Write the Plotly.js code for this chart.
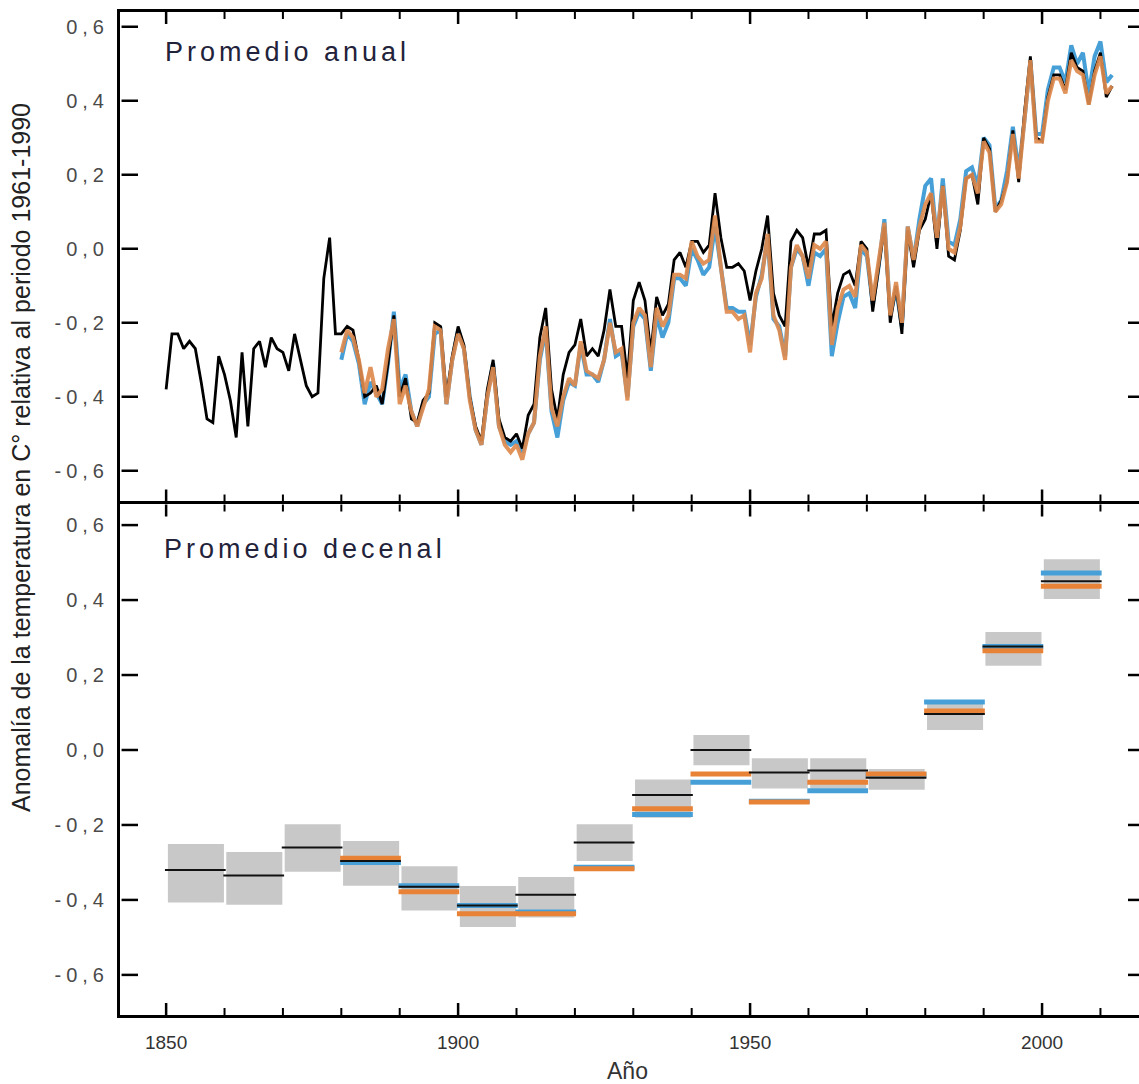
<!DOCTYPE html>
<html>
<head>
<meta charset="utf-8">
<script src="https://cdn.plot.ly/plotly-3.0.1.min.js"></script>
<style>
html,body{margin:0;padding:0;background:#fff;overflow:hidden;}
#chart{width:1146px;height:1084px;}
.ytick text,.y2tick text{letter-spacing:5px;}
</style>
</head>
<body>
<div id="chart"></div>
<script>
// ---------- DATA ----------
// Annual anomalies (°C, relative to 1961-1990)
const blackStart = 1850;
const blackAnnual = [
-0.38,-0.23,-0.23,-0.27,-0.25,-0.27,-0.36,-0.46,-0.47,-0.29,
-0.34,-0.41,-0.51,-0.28,-0.48,-0.27,-0.25,-0.32,-0.24,-0.27,
-0.28,-0.33,-0.23,-0.30,-0.37,-0.40,-0.39,-0.08,0.03,-0.23,
-0.23,-0.21,-0.22,-0.30,-0.40,-0.39,-0.37,-0.42,-0.31,-0.18,
-0.40,-0.35,-0.46,-0.47,-0.41,-0.39,-0.20,-0.21,-0.40,-0.29,
-0.21,-0.26,-0.40,-0.48,-0.52,-0.38,-0.30,-0.46,-0.51,-0.52,
-0.50,-0.54,-0.45,-0.42,-0.24,-0.16,-0.38,-0.46,-0.34,-0.28,
-0.26,-0.19,-0.29,-0.27,-0.29,-0.22,-0.11,-0.21,-0.21,-0.35,
-0.14,-0.09,-0.14,-0.28,-0.13,-0.18,-0.15,-0.03,-0.01,-0.05,
0.02,0.02,-0.01,0.01,0.15,0.03,-0.05,-0.05,-0.04,-0.06,
-0.14,-0.06,0.00,0.09,-0.12,-0.18,-0.21,0.02,0.05,0.03,
-0.05,0.04,0.04,0.05,-0.21,-0.12,-0.07,-0.06,-0.10,0.02,
0.00,-0.17,-0.05,0.06,-0.20,-0.10,-0.23,0.05,-0.05,0.05,
0.08,0.15,0.00,0.17,-0.02,-0.03,0.05,0.19,0.20,0.12,
0.30,0.27,0.10,0.13,0.18,0.32,0.18,0.37,0.52,0.30,
0.29,0.41,0.47,0.47,0.43,0.53,0.49,0.48,0.39,0.48,
0.53,0.41,0.44];

const orangeStart = 1880;
const orangeAnnual = [
-0.28,-0.22,-0.24,-0.30,-0.39,-0.32,-0.40,-0.38,-0.27,-0.19,
-0.42,-0.37,-0.44,-0.48,-0.43,-0.38,-0.21,-0.22,-0.42,-0.30,
-0.23,-0.27,-0.41,-0.49,-0.53,-0.40,-0.32,-0.48,-0.53,-0.55,
-0.53,-0.57,-0.50,-0.47,-0.29,-0.21,-0.43,-0.48,-0.40,-0.35,
-0.37,-0.25,-0.33,-0.34,-0.35,-0.30,-0.20,-0.28,-0.27,-0.41,
-0.20,-0.16,-0.18,-0.32,-0.16,-0.21,-0.18,-0.07,-0.07,-0.08,
0.02,-0.02,-0.04,-0.03,0.09,-0.05,-0.17,-0.17,-0.19,-0.18,
-0.28,-0.12,-0.08,0.04,-0.18,-0.22,-0.30,-0.05,0.01,-0.02,
-0.08,0.01,0.00,0.02,-0.26,-0.16,-0.11,-0.10,-0.13,0.01,
-0.01,-0.14,-0.04,0.07,-0.18,-0.09,-0.20,0.06,-0.03,0.06,
0.12,0.15,0.03,0.17,0.00,-0.01,0.06,0.19,0.20,0.15,
0.29,0.26,0.10,0.12,0.18,0.31,0.19,0.35,0.51,0.29,
0.29,0.40,0.46,0.46,0.42,0.51,0.48,0.47,0.39,0.47,
0.52,0.42,0.44];

const blueStart = 1880;
const blueAnnual = [
-0.30,-0.23,-0.25,-0.31,-0.42,-0.36,-0.39,-0.42,-0.31,-0.17,
-0.38,-0.34,-0.44,-0.48,-0.42,-0.40,-0.23,-0.22,-0.42,-0.30,
-0.22,-0.27,-0.40,-0.49,-0.53,-0.40,-0.31,-0.48,-0.52,-0.53,
-0.52,-0.55,-0.50,-0.47,-0.30,-0.22,-0.44,-0.51,-0.41,-0.36,
-0.37,-0.26,-0.34,-0.34,-0.36,-0.30,-0.19,-0.29,-0.28,-0.40,
-0.21,-0.17,-0.19,-0.33,-0.18,-0.24,-0.20,-0.08,-0.08,-0.10,
0.00,-0.03,-0.07,-0.05,0.06,-0.06,-0.16,-0.16,-0.17,-0.17,
-0.26,-0.13,-0.07,0.03,-0.19,-0.21,-0.29,-0.05,0.00,-0.02,
-0.10,-0.01,-0.02,0.00,-0.29,-0.20,-0.13,-0.12,-0.16,0.00,
-0.02,-0.15,-0.05,0.08,-0.18,-0.11,-0.21,0.06,-0.03,0.08,
0.17,0.19,0.02,0.19,0.02,0.01,0.08,0.21,0.22,0.17,
0.30,0.28,0.11,0.13,0.21,0.33,0.21,0.35,0.51,0.31,
0.31,0.43,0.49,0.49,0.45,0.55,0.50,0.53,0.42,0.52,
0.56,0.45,0.47];

// Decadal averages
const decades = [1850,1860,1870,1880,1890,1900,1910,1920,1930,1940,1950,1960,1970,1980,1990,2000];
const blackDecadal  = [-0.320,-0.335,-0.260,-0.296,-0.365,-0.415,-0.386,-0.247,-0.120,0.000,-0.060,-0.055,-0.074,0.096,0.276,0.450];
const orangeDecadal = [null,null,null,-0.289,-0.378,-0.437,-0.437,-0.317,-0.157,-0.064,-0.139,-0.086,-0.064,0.104,0.265,0.437];
const blueDecadal   = [null,null,null,-0.300,-0.362,-0.415,-0.432,-0.313,-0.172,-0.086,-0.137,-0.109,-0.066,0.128,0.276,0.472];
const boxLow  = [-0.407,-0.413,-0.325,-0.362,-0.428,-0.472,-0.447,-0.296,-0.181,-0.041,-0.103,-0.103,-0.106,0.053,0.225,0.403];
const boxHigh = [-0.251,-0.272,-0.198,-0.243,-0.310,-0.363,-0.339,-0.198,-0.079,0.040,-0.022,-0.022,-0.051,0.132,0.315,0.509];

const yTickVals = [-0.6,-0.4,-0.2,0,0.2,0.4,0.6];
const yTickText = ['-0,6','-0,4','-0,2','0,0','0,2','0,4','0,6'];
const xTickVals = [1850,1900,1950,2000];
const xTickText = ['1850','1900','1950','2000'];
const xMinorVals = [1860,1870,1880,1890,1910,1920,1930,1940,1960,1970,1980,1990,2010];

// ---------- BUILD ----------
function yearsFrom(start, arr){ const out=[]; for(let i=0;i<arr.length;i++) out.push(start+i); return out; }
function segments(vals){
  const xs=[], ys=[];
  for(let i=0;i<decades.length;i++){
    if(vals[i]===null) continue;
    xs.push(decades[i]-0.2, decades[i]+10.2, null);
    ys.push(vals[i], vals[i], null);
  }
  return {x:xs, y:ys};
}

const ORANGE = 'rgba(222,138,78,0.92)';
const BLUE = 'rgb(70,160,215)';
const GREY = 'rgb(200,200,200)';

const traces = [];
traces.push({x:yearsFrom(blueStart,blueAnnual), y:blueAnnual, type:'scatter', mode:'lines',
  line:{color:BLUE,width:4}, xaxis:'x', yaxis:'y', hoverinfo:'skip'});
traces.push({x:yearsFrom(blackStart,blackAnnual), y:blackAnnual, type:'scatter', mode:'lines',
  line:{color:'#000',width:2.8}, xaxis:'x', yaxis:'y', hoverinfo:'skip'});
traces.push({x:yearsFrom(orangeStart,orangeAnnual), y:orangeAnnual, type:'scatter', mode:'lines',
  line:{color:ORANGE,width:4}, xaxis:'x', yaxis:'y', hoverinfo:'skip'});

traces.push({type:'bar', x:decades.map(d=>d+5.1), base:boxLow, y:boxHigh.map((h,i)=>h-boxLow[i]),
  width:9.6, marker:{color:GREY,line:{width:0}}, xaxis:'x2', yaxis:'y2', hoverinfo:'skip'});
const sb = segments(blueDecadal), so = segments(orangeDecadal), sk = segments(blackDecadal);
traces.push({x:sb.x, y:sb.y, type:'scatter', mode:'lines', line:{color:BLUE,width:5}, xaxis:'x2', yaxis:'y2', hoverinfo:'skip'});
traces.push({x:so.x, y:so.y, type:'scatter', mode:'lines', line:{color:'rgb(232,130,55)',width:5}, xaxis:'x2', yaxis:'y2', hoverinfo:'skip'});
traces.push({x:sk.x, y:sk.y, type:'scatter', mode:'lines', line:{color:'#111',width:2}, xaxis:'x2', yaxis:'y2', hoverinfo:'skip'});

// ---------- AXIS TICK MARKS (inside, on all four sides) ----------
const PLOT_W = 1026, PLOT_H = 1003;
const TOP_TOP = 1, TOP_BOT = 513.5/PLOT_H, BOT_TOP = 510.5/PLOT_H, BOT_BOT = 0;
const shapes = [];
function tickLine(xref, yref, x0, x1, y0, y1, w){
  shapes.push({type:'line', xref:xref, yref:yref, x0:x0, x1:x1, y0:y0, y1:y1,
    line:{color:'#000', width:w}, layer:'above'});
}
const yLen = 18/PLOT_W;
['y','y2'].forEach(function(yr){
  yTickVals.forEach(function(v){
    tickLine('paper', yr, 0.0015, yLen, v, v, 2.5);
    tickLine('paper', yr, 1, 1-yLen, v, v, 2.5);
  });
});
const maj = 12/PLOT_H, mnr = 7/PLOT_H;
[['x',TOP_TOP,-1],['x',TOP_BOT,1],['x2',BOT_TOP,-1],['x2',BOT_BOT,1]].forEach(function(p){
  xTickVals.forEach(function(v){ tickLine(p[0], 'paper', v, v, p[1], p[1]+p[2]*maj, 2.5); });
  xMinorVals.forEach(function(v){ tickLine(p[0], 'paper', v, v, p[1], p[1]+p[2]*mnr, 2); });
});

const xr = [1842.1, 2017.8];
const tickFont = {family:'Liberation Sans, Arial, sans-serif', size:20, color:'#4a4a4a'};
const xaxisBase = {range:xr, showline:true, linewidth:3, linecolor:'#000', mirror:true,
  ticks:'', tickvals:xTickVals, ticktext:xTickText,
  showgrid:false, zeroline:false, fixedrange:true};
const yaxisBase = {showline:true, linewidth:3, linecolor:'#000', mirror:true, ticks:'',
  tickvals:yTickVals, ticktext:yTickText, ticklabelstandoff:4,
  ticksuffix:' ', tickfont:tickFont, showgrid:false, zeroline:false, fixedrange:true};

const layout = {
  width:1146, height:1084,
  margin:{l:120, r:0, t:12, b:69},
  paper_bgcolor:'#fff', plot_bgcolor:'rgba(0,0,0,0)',
  showlegend:false, barmode:'overlay',
  xaxis: Object.assign({}, xaxisBase, {anchor:'y', showticklabels:false}),
  yaxis: Object.assign({}, yaxisBase, {domain:[0.5120,1], range:[-0.683,0.640], anchor:'x'}),
  xaxis2: Object.assign({}, xaxisBase, {anchor:'y2', showticklabels:true, ticklabelstandoff:8,
    tickfont:{family:'Liberation Sans Narrow, Liberation Sans, Arial Narrow, sans-serif', size:19, color:'#333'}}),
  yaxis2: Object.assign({}, yaxisBase, {domain:[0,0.5090], range:[-0.707,0.655], anchor:'x2'}),
  shapes: shapes,
  annotations:[
    {text:'Promedio anual', xref:'paper', yref:'paper', x:0.1633, y:0.960, xanchor:'center', yanchor:'middle',
     showarrow:false, font:{family:'Liberation Sans, Arial, sans-serif', size:27, color:'#22223a'}},
    {text:'Promedio decenal', xref:'paper', yref:'paper', x:0.1803, y:0.4646, xanchor:'center', yanchor:'middle',
     showarrow:false, font:{family:'Liberation Sans, Arial, sans-serif', size:27, color:'#22223a'}},
    {text:'Año', xref:'paper', yref:'paper', x:0.495, y:-0.0558, xanchor:'center', yanchor:'middle',
     showarrow:false, font:{family:'Liberation Sans Narrow, Liberation Sans, Arial Narrow, sans-serif', size:23, color:'#333'}},
    {text:'Anomalía de la temperatura en C° relativa al periodo 1961-1990', xref:'paper', yref:'paper',
     x:-0.0965, y:0.5563, xanchor:'center', yanchor:'middle', textangle:-90, showarrow:false,
     font:{family:'Liberation Sans Narrow, Liberation Sans, Arial Narrow, sans-serif', size:25, color:'#222'}}
  ]
};

Plotly.newPlot('chart', traces, layout, {staticPlot:true, displayModeBar:false}).then(function(){
  const anns = document.querySelectorAll('.annotation-text');
  for (let i=0;i<2 && i<anns.length;i++) anns[i].style.letterSpacing = '4px';
});
</script>
</body>
</html>
